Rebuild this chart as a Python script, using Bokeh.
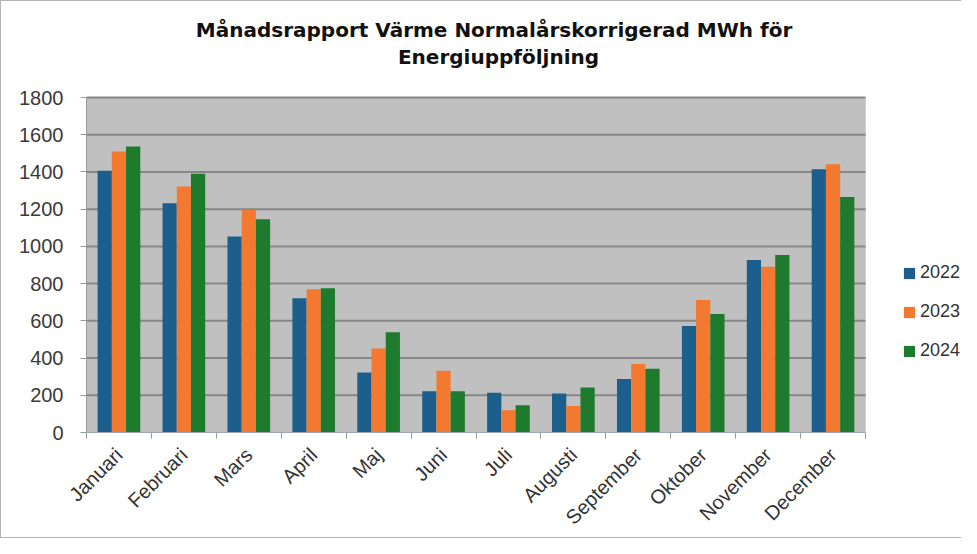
import math
import numpy as np
from bokeh.plotting import figure
from bokeh.models import (Range1d, FixedTicker, Legend, LegendItem, Label,
                          BoxAnnotation, ColumnDataSource)
from bokeh.embed import file_html
from bokeh.resources import INLINE

months = ["Januari", "Februari", "Mars", "April", "Maj", "Juni", "Juli",
          "Augusti", "September", "Oktober", "November", "December"]
years = ["2022", "2023", "2024"]
v2022 = [1406, 1232, 1053, 721, 323, 222, 213, 210, 287, 572, 927, 1415]
v2023 = [1510, 1322, 1196, 770, 452, 332, 120, 142, 368, 712, 891, 1442]
v2024 = [1537, 1390, 1146, 775, 538, 222, 147, 242, 343, 637, 954, 1265]
y_ticks = [0, 200, 400, 600, 800, 1000, 1200, 1400, 1600, 1800]
colors = ["#1c5e8c", "#f2792f", "#1e7a2c"]

title_line1 = "Månadsrapport Värme Normalårskorrigerad  MWh för"
title_line2 = "Energiuppföljning"

# layout (pixels)
W, H = 961, 538
LEFT, BOTTOM = 85, 107
PLOT_W, PLOT_H = 779, 335          # size of the grey plot area
n = len(months)
ymax = y_ticks[-1]
frame_w, frame_h = W - LEFT, H - BOTTOM
x_end = n * frame_w / PLOT_W
y_end = ymax * frame_h / PLOT_H
px_x = PLOT_W / n                  # px per category
px_y = PLOT_H / ymax               # px per unit

p = figure(width=W, height=H, output_backend="svg", toolbar_location=None,
           x_range=Range1d(0, x_end), y_range=Range1d(0, y_end),
           title=None, min_border_left=LEFT, min_border_bottom=BOTTOM,
           min_border_top=0, min_border_right=0)
p.styles = {"border-left": "1px solid #b4b4b4", "border-top": "1px solid #b4b4b4",
            "border-bottom": "1px solid #b4b4b4"}
p.background_fill_color = "white"
p.border_fill_color = "white"
p.outline_line_color = None

# grey plot area
p.add_layout(BoxAnnotation(left=0, right=n, bottom=0, top=ymax,
                           fill_color="#c0c0c0", fill_alpha=1.0,
                           line_color="#a8a8a8", line_width=1, level="underlay"))

# horizontal grid lines
p.segment(x0=[0] * (len(y_ticks) - 1), x1=[n] * (len(y_ticks) - 1),
          y0=y_ticks[1:], y1=y_ticks[1:], line_color="#878787", line_width=2)

idx = np.arange(n) + 0.5
bw = 0.219
series = [v2022, v2023, v2024]
renderers = []
for k, (vals, col) in enumerate(zip(series, colors)):
    src = ColumnDataSource(dict(x=idx + (k - 1) * bw, top=vals))
    r = p.vbar(x="x", top="top", width=bw, bottom=0, source=src,
               fill_color=col, line_color=None)
    renderers.append(r)

# axes
p.xaxis.bounds = (0, n)
p.xaxis.ticker = FixedTicker(ticks=list(idx), minor_ticks=list(range(n + 1)))
p.xaxis.major_label_overrides = {float(i): m for i, m in zip(idx, months)}
p.xaxis.major_label_orientation = math.pi / 4
p.xaxis.major_label_text_font = "Liberation Sans"
p.xaxis.major_label_text_font_size = "20px"
p.xaxis.major_label_text_color = "#333333"
p.xaxis.major_label_standoff = 13
p.xaxis.major_tick_line_color = None
p.xaxis.minor_tick_line_color = "#9a9a9a"
p.xaxis.minor_tick_out = 6
p.xaxis.minor_tick_in = 0
p.xaxis.axis_line_color = "#9aa6b4"

p.yaxis.bounds = (0, ymax)
p.yaxis.ticker = FixedTicker(ticks=y_ticks)
p.yaxis.major_label_text_font = "Liberation Sans"
p.yaxis.major_label_text_font_size = "20px"
p.yaxis.major_label_text_color = "#3a3a3a"
p.yaxis.major_label_standoff = 17
p.yaxis.major_tick_out = 6
p.yaxis.major_tick_in = 0
p.yaxis.major_tick_line_color = "#9a9a9a"
p.yaxis.minor_tick_line_color = None
p.yaxis.axis_line_color = "#9a9a9a"

p.xgrid.visible = False
p.ygrid.visible = False

# title (two lines)
for text, cx, cy in [(title_line1, 496, 28), (title_line2, 497, 55)]:
    p.add_layout(Label(x=(cx - LEFT) / px_x, y=(H - BOTTOM - cy) / px_y, text=text,
                       text_align="center", text_baseline="middle",
                       text_font="DejaVu Sans", text_font_size="20px",
                       text_font_style="bold", text_color="#111111"))

legend = Legend(items=[LegendItem(label=y, renderers=[r]) for y, r in zip(years, renderers)],
                location=(816, 71), orientation="vertical",
                padding=0, margin=0, spacing=18,
                glyph_width=14, glyph_height=14, label_height=21,
                label_standoff=4, label_text_font="Liberation Sans",
                label_text_font_size="18px", label_text_color="#333333",
                border_line_color=None, background_fill_alpha=0)
p.add_layout(legend, "center")

open("out.html", "w").write(file_html(p, INLINE))
